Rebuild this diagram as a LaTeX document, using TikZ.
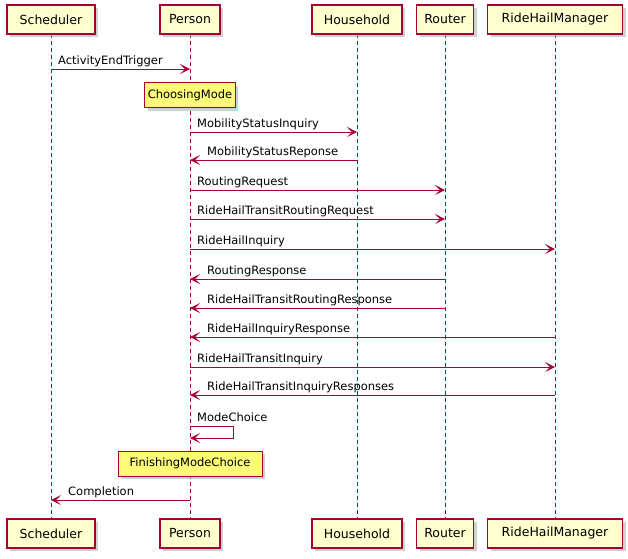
\documentclass[tikz,border=0pt]{standalone}
\usepackage{fontspec}
\setmainfont{DejaVu Sans}
\usetikzlibrary{arrows.meta}
\definecolor{bd}{HTML}{A80036}
\definecolor{pf}{HTML}{FEFECE}
\definecolor{nf}{HTML}{FBFB77}
\tikzset{
  part/.style={draw=bd,fill=pf,line width=1.1pt,minimum height=29pt,inner xsep=4pt,font=\fontsize{12.5}{14}\selectfont},
  shadowed/.style={preaction={fill=black!30,opacity=0.6,transform canvas={shift={(3pt,-3pt)}}}},
  notebox/.style={draw=bd,fill=nf,line width=0.9pt,minimum height=25pt,inner xsep=3pt,font=\fontsize{11.5}{13}\selectfont},
  life/.style={draw=bd,dash pattern=on 4pt off 3pt,line width=0.7pt},
  msg/.style={draw=bd,line width=0.9pt,-{Stealth[length=10pt,width=10pt,inset=5pt]}},
  lbl/.style={font=\fontsize{11.5}{13}\selectfont,anchor=base west,inner sep=0pt}
}
\begin{document}
\begin{tikzpicture}[x=1pt,y=-1pt]
\useasboundingbox (0,0) rectangle (628,558);
\foreach \n/\x in {s/51,p/190,h/357,r/445,m/555}{
  \coordinate (\n t) at (\x,34);
  \coordinate (\n b) at (\x,519);
  \path[life] (\n t) -- (\n b);
}
\foreach \n/\x/\w/\t in {s/51/88/Scheduler,p/190/60/Person,h/357/90/Household,r/445/57/Router,m/555/135/RideHailManager}{
  \node[part,shadowed,minimum width=\w pt] (\n T) at (\x,19.5) {\t};
  \node[part,shadowed,minimum width=\w pt] (\n B) at (\x,533.5) {\t};
}
\foreach \f/\t/\y/\l in {51/190/69/ActivityEndTrigger,190/357/132/MobilityStatusInquiry,190/445/190/RoutingRequest,190/445/219/RideHailTransitRoutingRequest,190/555/249/RideHailInquiry,190/555/367/RideHailTransitInquiry}{
  \coordinate (A) at (\f,\y); \coordinate (B) at (\t,\y);
  \draw[msg] (A) -- (B);
  \node[lbl] (L) at ([xshift=7pt,yshift=5pt]A) {\l};
}
\foreach \f/\t/\y/\l in {357/190/160/MobilityStatusReponse,445/190/279/RoutingResponse,445/190/308/RideHailTransitRoutingResponse,555/190/337/RideHailInquiryResponse,555/190/395/RideHailTransitInquiryResponses,190/51/500/Completion}{
  \coordinate (A) at (\f,\y); \coordinate (B) at (\t,\y);
  \draw[msg] (A) -- (B);
  \node[lbl] (L) at ([xshift=17pt,yshift=5pt]B) {\l};
}
\coordinate (S1) at (190,426); \coordinate (S2) at (233,426);
\coordinate (S3) at (233,438); \coordinate (S4) at (190,438);
\draw[msg] (S1) -- (S2) -- (S3) -- (S4);
\node[lbl] (LS) at ([xshift=7pt,yshift=5pt]S1) {ModeChoice};
\node[notebox,shadowed,minimum width=80pt] (n1) at (190,95) {ChoosingMode};
\node[notebox,shadowed,minimum width=144pt] (n2) at (190,463.5) {FinishingModeChoice};
\end{tikzpicture}
\end{document}
